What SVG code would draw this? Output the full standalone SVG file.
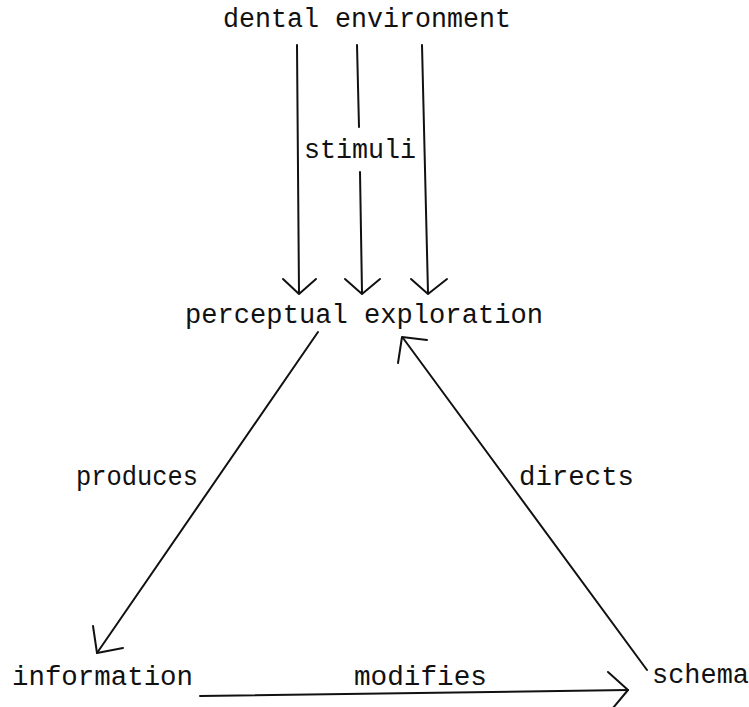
<svg xmlns="http://www.w3.org/2000/svg" width="749" height="707" viewBox="0 0 749 707">
<style>
  text { font-family: "Liberation Mono", "DejaVu Sans Mono", monospace; font-size: 27px; fill: #111; }
  .ln { stroke: #111; stroke-width: 2; fill: none; stroke-linecap: round; stroke-linejoin: round; }
</style>
<rect width="749" height="707" fill="#fff"/>
<g id="node-dental-environment">
  <text x="223" y="27" textLength="288" lengthAdjust="spacingAndGlyphs">dental environment</text>
</g>
<g id="node-perceptual-exploration">
  <text x="185" y="323" textLength="358" lengthAdjust="spacingAndGlyphs">perceptual exploration</text>
</g>
<g id="node-information">
  <text x="12" y="685" textLength="181" lengthAdjust="spacingAndGlyphs">information</text>
</g>
<g id="node-schema">
  <text x="652" y="683" textLength="97" lengthAdjust="spacingAndGlyphs">schema</text>
</g>
<g id="connectors">
  <g id="stimuli">
    <path class="ln" d="M297,45 L299,293"/>
    <polyline class="ln" points="283,279 299,294 316,279"/>
    <path class="ln" d="M357,45 L359,127 M360,172 L362,293"/>
    <polyline class="ln" points="345,279 362,294 380,279"/>
    <path class="ln" d="M422,45 L428,293"/>
    <polyline class="ln" points="411,279 428,294 447,279"/>
    <text x="304" y="158" textLength="112" lengthAdjust="spacingAndGlyphs">stimuli</text>
  </g>
  <g id="produces">
    <path class="ln" d="M318,332 L97,653"/>
    <polyline class="ln" points="93,626 97,653 123,648"/>
    <text x="76" y="485" textLength="122" lengthAdjust="spacingAndGlyphs">produces</text>
  </g>
  <g id="directs">
    <path class="ln" d="M647,670 L403,338"/>
    <polyline class="ln" points="398,363 402,337 427,340"/>
    <text x="519" y="485" textLength="115" lengthAdjust="spacingAndGlyphs">directs</text>
  </g>
  <g id="modifies">
    <path class="ln" d="M200,696 L628,690"/>
    <polyline class="ln" points="608,672 628,690 613,708"/>
    <text x="354" y="685" textLength="133" lengthAdjust="spacingAndGlyphs">modifies</text>
  </g>
</g>
</svg>
